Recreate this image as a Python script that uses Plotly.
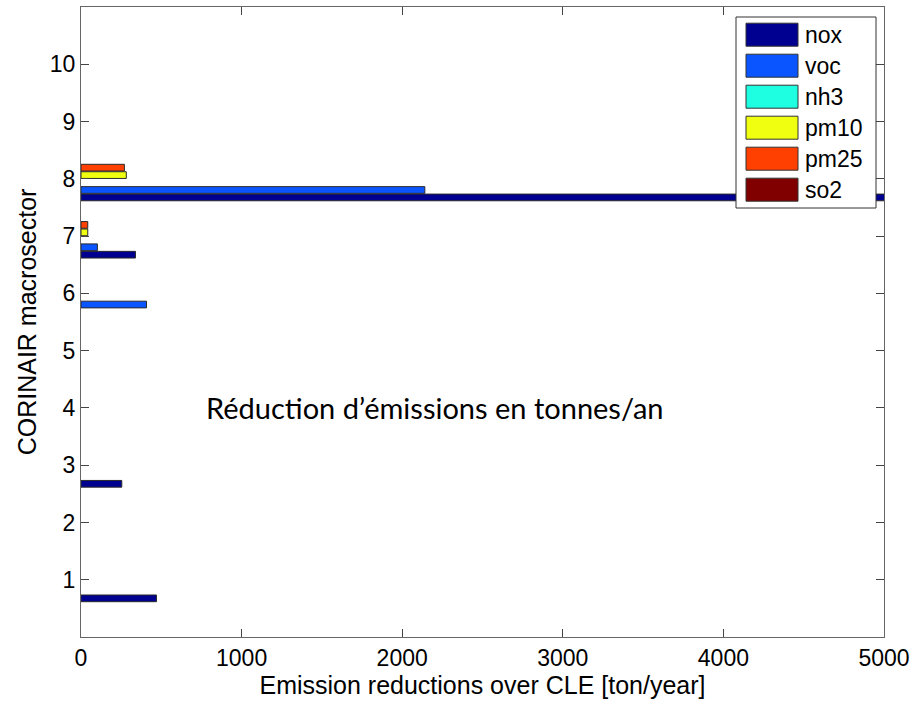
import plotly.graph_objects as go

# Data
sectors = [1, 2, 3, 4, 5, 6, 7, 8, 9, 10]
series_names = ["nox", "voc", "nh3", "pm10", "pm25", "so2"]
series_colors = ["#000090", "#0A55FF", "#1EFFE1", "#F0FF10", "#FF4000", "#800000"]
nox = [470, 0, 254, 0, 0, 0, 339, 6000, 0, 0]
voc = [0, 0, 0, 0, 0, 408, 102, 2141, 0, 0]
nh3 = [0, 0, 0, 0, 0, 0, 0, 0, 0, 0]
pm10 = [0, 0, 0, 0, 0, 0, 42, 282, 0, 0]
pm25 = [0, 0, 0, 0, 0, 0, 42, 270, 0, 0]
so2 = [0, 0, 0, 0, 0, 0, 0, 0, 0, 0]
series_values = [nox, voc, nh3, pm10, pm25, so2]
x_ticks = [0, 1000, 2000, 3000, 4000, 5000]
y_ticks = [1, 2, 3, 4, 5, 6, 7, 8, 9, 10]

FONT = "Liberation Sans, Arial, sans-serif"
W, H = 914, 701

fig = go.Figure()
for name, color, vals in zip(series_names, series_colors, series_values):
    fig.add_trace(go.Bar(
        y=sectors, x=vals, name=name, orientation="h",
        marker=dict(color=color,
                    line=dict(color="#2a2a2a", width=[1 if v > 0 else 0 for v in vals])),
        showlegend=False,
    ))

# plot area in page pixels
plot_l, plot_r, plot_t, plot_b = 81, 884, 7, 637
pw, ph = plot_r - plot_l, plot_b - plot_t

def px(xp):
    return (xp - plot_l) / pw

def py(yp):
    return (plot_b - yp) / ph

shapes = []
annotations = []
shapes.append(dict(type="rect", xref="paper", yref="paper",
                   x0=px(736), x1=px(876), y0=py(208), y1=py(17),
                   line=dict(color="#333333", width=1), fillcolor="white", layer="above"))
for i, (name, color) in enumerate(zip(series_names, series_colors)):
    yc = 34.7 + i * 31.0
    shapes.append(dict(type="rect", xref="paper", yref="paper",
                       x0=px(746), x1=px(798), y0=py(yc + 11.5), y1=py(yc - 11.5),
                       line=dict(color="#333333", width=1), fillcolor=color, layer="above"))
    annotations.append(dict(xref="paper", yref="paper", x=px(803), y=py(yc),
                            text=name, showarrow=False, xanchor="left", yanchor="middle",
                            font=dict(family=FONT, size=23, color="black")))

annotations.append(dict(x=2200, y=4.0, xref="x", yref="y",
                        text="Réduction d’émissions en tonnes/an", showarrow=False,
                        xanchor="center", yanchor="middle",
                        font=dict(family="Lato, Carlito, sans-serif", size=29, color="black")))

fig.update_layout(
    width=W, height=H,
    margin=dict(l=plot_l, r=W - plot_r, t=plot_t, b=H - plot_b, autoexpand=False),
    paper_bgcolor="white", plot_bgcolor="white",
    barmode="group", bargap=0.22, bargroupgap=0.1,
    shapes=shapes, annotations=annotations,
    font=dict(family=FONT, size=23, color="black"),
    hovermode=False,
)
fig.update_xaxes(
    range=[0, 5000], tickvals=x_ticks, ticktext=[str(v) for v in x_ticks],
    ticks="inside", ticklen=8, tickcolor="#444", showline=True, linecolor="#666",
    linewidth=1, mirror="ticks", showgrid=False, zeroline=False,
    tickfont=dict(family=FONT, size=23),
    title=dict(text="Emission reductions over CLE [ton/year]", standoff=0,
               font=dict(family=FONT, size=25)),
)
fig.update_yaxes(
    range=[0, 11], tickvals=y_ticks, ticktext=[str(v) for v in y_ticks],
    ticks="inside", ticklen=8, tickcolor="#444", showline=True, linecolor="#666",
    linewidth=1, mirror="ticks", showgrid=False, zeroline=False,
    tickfont=dict(family=FONT, size=23),
    title=dict(text="CORINAIR macrosector", standoff=6,
               font=dict(family=FONT, size=25)),
)

fig.write_html("out.html",
               config={"displayModeBar": False},
               post_script="document.body.style.margin='0';document.body.style.overflow='hidden';")
